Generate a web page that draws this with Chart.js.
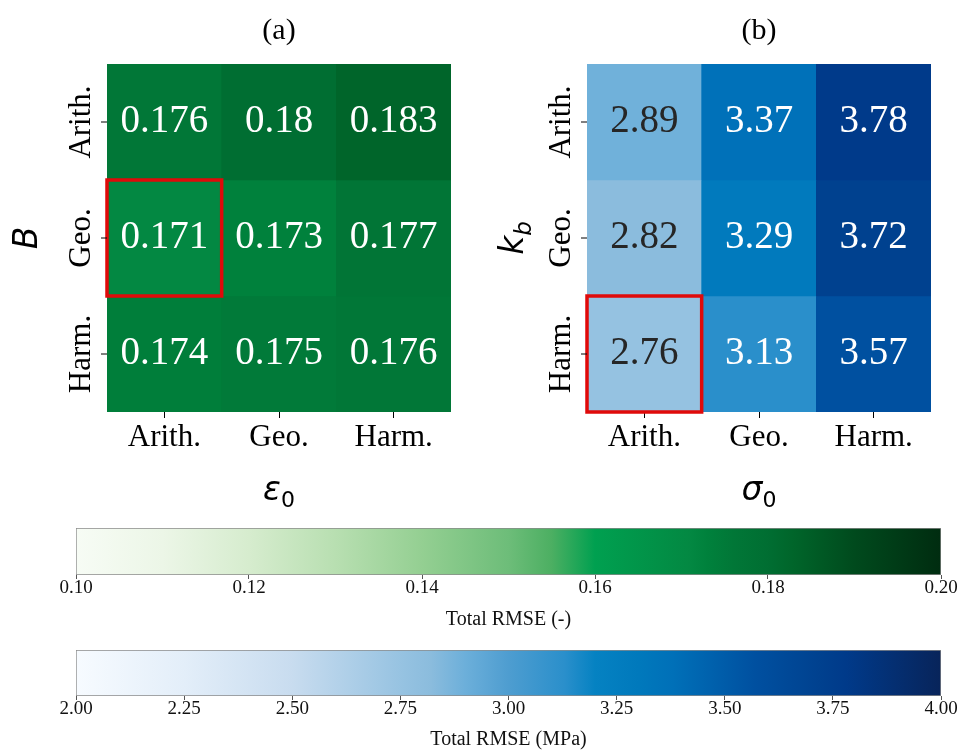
<!DOCTYPE html>
<html>
<head>
<meta charset="utf-8">
<script src="https://cdn.jsdelivr.net/npm/chart.js@4.4.0/dist/chart.umd.min.js"></script>
<style>
  html, body { margin: 0; padding: 0; background: #fff; }
  #page { position: relative; width: 960px; height: 750px; overflow: hidden; }
  canvas { position: absolute; }
</style>
</head>
<body>
<div id="page">
  <canvas id="heat-a" width="480" height="512" style="left:0;top:0"></canvas>
  <canvas id="heat-b" width="480" height="512" style="left:480px;top:0"></canvas>
  <canvas id="bar-a" width="960" height="120" style="left:0;top:510px"></canvas>
  <canvas id="bar-b" width="960" height="120" style="left:0;top:630px"></canvas>
</div>
<script>
// Data
const methods = ['Arith.', 'Geo.', 'Harm.'];
// rows = B (or k_b) averaging, columns = eps0 (or sigma0) averaging
const rmseStrain = [
    [0.176, 0.18, 0.183],
    [0.171, 0.173, 0.177],
    [0.174, 0.175, 0.176]
];
const rmseStress = [
    [2.89, 3.37, 3.78],
    [2.82, 3.29, 3.72],
    [2.76, 3.13, 3.57]
];
const strainRange = [0.10, 0.20];
const stressRange = [2.00, 4.00];
const strainTicks = [0.10, 0.12, 0.14, 0.16, 0.18, 0.20];
const stressTicks = [2.00, 2.25, 2.50, 2.75, 3.00, 3.25, 3.50, 3.75, 4.00];

// Styles
const SERIF = "'Liberation Serif', 'Times New Roman', serif";
const SANS = "'DejaVu Sans', sans-serif";
const greenStops = [
    [0.00, '#f7fcf5'], [0.10, '#ecf6e7'], [0.20, '#d6ecce'], [0.30, '#b8dfb1'],
    [0.40, '#94cf92'], [0.50, '#6dbd79'], [0.55, '#4caf62'], [0.60, '#00a050'],
    [0.71, '#038842'], [0.73, '#00813c'], [0.76, '#017737'], [0.80, '#006e32'],
    [0.83, '#00652a'], [0.90, '#004a1d'], [1.00, '#002c10']
];
const blueStops = [
    [0.00, '#f7fbff'], [0.125, '#e3eef9'], [0.25, '#c8dcef'], [0.38, '#95c2e1'],
    [0.41, '#8bbcdd'], [0.45, '#6cafda'], [0.50, '#4e9dd0'], [0.565, '#2a8fcb'],
    [0.60, '#0582c2'], [0.65, '#0079bc'], [0.69, '#0070b8'], [0.785, '#0050a0'],
    [0.86, '#00418f'], [0.89, '#003a8a'], [1.00, '#08245a']
];

Chart.defaults.animation = false;

function hexToRgb(h) {
    const n = parseInt(h.slice(1), 16);
    return [(n >> 16) & 255, (n >> 8) & 255, n & 255];
}

function fraction(range, v) {
    return Math.min(1, Math.max(0, (v - range[0]) / (range[1] - range[0])));
}

function colorAt(stops, range, v) {
    const t = fraction(range, v);
    for (let i = 1; i < stops.length; i++) {
        if (t <= stops[i][0]) {
            const [t0, c0] = stops[i - 1];
            const [t1, c1] = stops[i];
            const k = (t - t0) / (t1 - t0);
            const a = hexToRgb(c0), b = hexToRgb(c1);
            const rgb = a.map((x, j) => Math.round(x + (b[j] - x) * k));
            return `rgb(${rgb.join(',')})`;
        }
    }
    return stops[stops.length - 1][1];
}

// math label: italic symbol + upright subscript
function drawMath(ctx, label, baseSize, subSize, drop) {
    ctx.font = `italic ${baseSize}px ${SANS}`;
    const wBase = ctx.measureText(label.base).width;
    let wSub = 0;
    if (label.sub) {
        ctx.font = `${label.subItalic ? 'italic ' : ''}${subSize}px ${SANS}`;
        wSub = ctx.measureText(label.sub).width;
    }
    const x0 = -(wBase + wSub) / 2;
    ctx.textAlign = 'left';
    ctx.textBaseline = 'alphabetic';
    ctx.font = `italic ${baseSize}px ${SANS}`;
    ctx.fillText(label.base, x0, 0);
    if (label.sub) {
        ctx.font = `${label.subItalic ? 'italic ' : ''}${subSize}px ${SANS}`;
        ctx.fillText(label.sub, x0 + wBase, drop);
    }
}

// Cell labels, highlight box, rotated y ticks and axis titles
function heatPlugin(values, range, xTitle, yTitle) {
    return {
        id: 'heatExtras',
        afterDatasetsDraw(chart) {
            const ctx = chart.ctx;
            ctx.save();
            ctx.font = `39px ${SERIF}`;
            ctx.textAlign = 'center';
            ctx.textBaseline = 'alphabetic';
            let best = { v: Infinity, r: 0, c: 0 };
            values.forEach((row, r) => row.forEach((v, c) => {
                const bar = chart.getDatasetMeta(r).data[c];
                const cy = (bar.y + bar.base) / 2;
                ctx.fillStyle = fraction(range, v) < 0.5 ? '#262626' : '#ffffff';
                ctx.fillText(String(v), bar.x, cy + 10);
                if (v < best.v) best = { v, r, c };
            }));
            // box around the lowest RMSE
            const bar = chart.getDatasetMeta(best.r).data[best.c];
            const top = Math.min(bar.y, bar.base);
            ctx.strokeStyle = '#e00a0a';
            ctx.lineWidth = 3.5;
            ctx.strokeRect(bar.x - bar.width / 2, top, bar.width, Math.abs(bar.base - bar.y));
            ctx.restore();
        },
        afterDraw(chart) {
            const { ctx, chartArea, scales: { y } } = chart;
            ctx.save();
            ctx.fillStyle = '#000';
            ctx.strokeStyle = '#000';
            ctx.lineWidth = 1;
            ctx.font = `31px ${SERIF}`;
            ctx.textAlign = 'center';
            ctx.textBaseline = 'alphabetic';
            methods.forEach((m, r) => {
                const py = y.getPixelForValue(r + 0.5);
                ctx.beginPath();
                ctx.moveTo(chartArea.left - 6, py);
                ctx.lineTo(chartArea.left, py);
                ctx.stroke();
                ctx.save();
                ctx.translate(chartArea.left - 17, py);
                ctx.rotate(-Math.PI / 2);
                ctx.fillText(m, 0, 0);
                ctx.restore();
            });
            // y title
            const cy = (chartArea.top + chartArea.bottom) / 2;
            ctx.save();
            ctx.translate(chartArea.left - (yTitle.sub ? 64 : 70), cy);
            ctx.rotate(-Math.PI / 2);
            drawMath(ctx, yTitle, 33, 23, 8);
            ctx.restore();
            // x title
            ctx.save();
            ctx.translate((chartArea.left + chartArea.right) / 2, chartArea.bottom + 88);
            drawMath(ctx, xTitle, 33, 22, 7);
            ctx.restore();
            ctx.restore();
        }
    };
}

function heatmap(id, title, values, range, stops, xTitle, yTitle) {
    const datasets = values.map((row, r) => ({
        data: row.map(() => [r, r + 1]),
        backgroundColor: row.map(v => colorAt(stops, range, v)),
        borderWidth: 0,
        grouped: false,
        barPercentage: 1,
        categoryPercentage: 1
    }));

    return new Chart(document.getElementById(id), {
        type: 'bar',
        data: { labels: methods, datasets: datasets },
        options: {
            responsive: false,
            layout: { padding: { left: 107, right: 29, top: 0, bottom: 0 } },
            plugins: {
                legend: { display: false },
                tooltip: { enabled: false },
                title: {
                    display: true,
                    text: title,
                    color: '#000',
                    font: { family: SERIF, size: 30, weight: 'normal' },
                    padding: { top: 13, bottom: 15 }
                }
            },
            scales: {
                x: {
                    type: 'category',
                    afterFit: scale => { scale.height = 100; },
                    grid: { display: true, drawOnChartArea: false, drawTicks: true, tickLength: 6, offset: false, color: '#000' },
                    border: { display: false },
                    ticks: { color: '#000', padding: 1, font: { family: SERIF, size: 31 } }
                },
                y: { type: 'linear', display: false, min: 0, max: 3, reverse: true }
            }
        },
        plugins: [heatPlugin(values, range, xTitle, yTitle)]
    });
}

function colorbar(id, range, ticks, stops, label, top, bottom) {
    return new Chart(document.getElementById(id), {
        type: 'bar',
        data: {
            labels: [''],
            datasets: [{
                data: [[range[0], range[1]]],
                backgroundColor: ctx => {
                    const area = ctx.chart.chartArea;
                    if (!area) return null;
                    const g = ctx.chart.ctx.createLinearGradient(area.left, 0, area.right, 0);
                    stops.forEach(([t, c]) => g.addColorStop(t, c));
                    return g;
                },
                borderColor: '#8a8a8a',
                borderWidth: 1,
                borderSkipped: false,
                barPercentage: 1,
                categoryPercentage: 1
            }]
        },
        options: {
            responsive: false,
            indexAxis: 'y',
            layout: { padding: { left: 76, right: 19, top: top, bottom: 0 } },
            plugins: { legend: { display: false }, tooltip: { enabled: false } },
            scales: {
                x: {
                    type: 'linear',
                    position: 'bottom',
                    min: range[0],
                    max: range[1],
                    afterBuildTicks: scale => { scale.ticks = ticks.map(v => ({ value: v })); },
                    afterFit: scale => { scale.height = bottom; },
                    grid: { drawOnChartArea: false, drawTicks: true, tickLength: 4, color: '#555' },
                    border: { display: false },
                    ticks: {
                        autoSkip: false,
                        maxRotation: 0,
                        padding: 0,
                        color: '#111',
                        font: { family: SERIF, size: 19, lineHeight: 1 },
                        callback: v => Number(v).toFixed(2)
                    },
                    title: {
                        display: true,
                        text: label,
                        color: '#111',
                        font: { family: SERIF, size: 20, lineHeight: 1 },
                        padding: 0
                    }
                },
                y: { display: false }
            }
        }
    });
}

heatmap('heat-a', '(a)', rmseStrain, strainRange, greenStops,
    { base: 'ε', sub: '0' }, { base: 'B', sub: '' });
heatmap('heat-b', '(b)', rmseStress, stressRange, blueStops,
    { base: 'σ', sub: '0' }, { base: 'k', sub: 'b', subItalic: true });
colorbar('bar-a', strainRange, strainTicks, greenStops, 'Total RMSE (-)', 18, 55);
colorbar('bar-b', stressRange, stressTicks, blueStops, 'Total RMSE (MPa)', 20, 54);
</script>
</body>
</html>
